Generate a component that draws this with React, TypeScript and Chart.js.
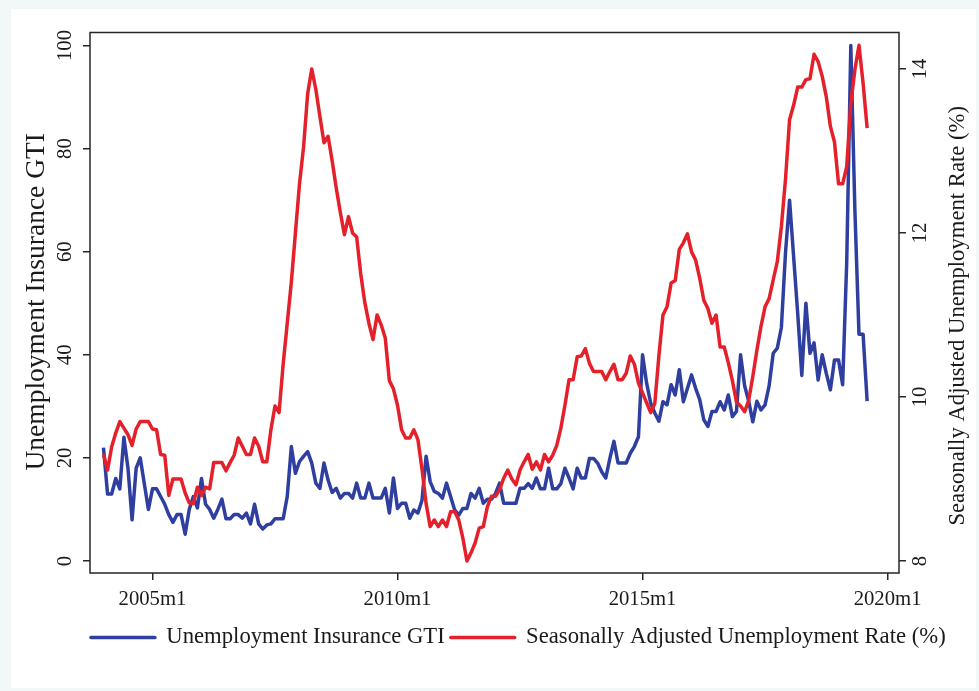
import { useEffect, useRef } from "react";
import { Chart, registerables } from "chart.js";

Chart.register(...registerables);

// Monthly observations, first month = 2004m1 (index 0)
const GTI = [
  22, 13, 13, 16, 14, 24, 18, 8, 18, 20,
  15, 10, 14, 14, 12.5, 11, 9, 7.5, 9, 9,
  5.2, 10, 12.5, 10.3, 16, 11, 10, 8.3, 10, 12,
  8.2, 8.2, 9, 9, 8.3, 9.3, 7.2, 11, 7.2, 6.2,
  7, 7.2, 8.2, 8.2, 8.2, 12.5, 22.2, 17, 19.3, 20.3,
  21.2, 19, 15.1, 14.1, 19, 15.7, 13.3, 14.1, 12.2, 13.1,
  13.1, 12.2, 15.1, 12.2, 12.2, 15.1, 12.2, 12.2, 12.2, 14.1,
  9.3, 16.1, 10.2, 11.2, 11.2, 8.3, 9.9, 9.3, 11.8, 20.3,
  15.4, 13.5, 13.1, 12.2, 15.1, 12.5, 9.9, 8.9, 10.2, 10.2,
  13.1, 12.2, 14.1, 11.2, 12, 12, 13.1, 15.1, 11.2, 11.2,
  11.2, 11.2, 14.1, 14.1, 15, 14.1, 16.1, 14, 14, 18,
  14, 14, 15, 18, 16.1, 14, 18, 16.1, 16.1, 19.9,
  19.9, 19, 17.3, 16.1, 19.9, 23.2, 19, 19, 19, 20.9,
  22.2, 24.1, 40, 34.5, 30.6, 28.7, 27.1, 30.9, 30.3, 34.2,
  32.2, 37.1, 30.9, 33.5, 36.1, 33.5, 31.3, 27.4, 26.1, 29,
  29, 30.9, 29.3, 32.2, 28, 29, 40, 34, 31, 27,
  31, 29.3, 30.3, 34, 40.3, 41.3, 45.3, 59.7, 70, 59,
  48, 36, 50, 40.3, 42.3, 35.1, 40, 36.4, 33.2, 39,
  39, 34.2, 58, 100, 68, 44, 44, 31,
];

const RATE = [
  9.3, 9.11, 9.39, 9.56, 9.7, 9.62, 9.54, 9.41, 9.61, 9.7,
  9.7, 9.7, 9.61, 9.6, 9.3, 9.29, 8.8, 9.0, 9.0, 9.0,
  8.83, 8.71, 8.7, 8.9, 8.8, 8.9, 8.88, 9.2, 9.2, 9.2,
  9.1, 9.2, 9.29, 9.5, 9.4, 9.3, 9.3, 9.5, 9.4, 9.21,
  9.21, 9.6, 9.89, 9.81, 10.4, 10.9, 11.4, 12.0, 12.6, 13.05,
  13.7, 14.0, 13.75, 13.42, 13.1, 13.18, 12.88, 12.55, 12.25, 11.98,
  12.2, 12.0, 11.95, 11.5, 11.15, 10.9, 10.7, 11.0, 10.88, 10.72,
  10.2, 10.1, 9.9, 9.6, 9.5, 9.5, 9.6, 9.48, 9.12, 8.7,
  8.42, 8.5, 8.42, 8.5, 8.42, 8.6, 8.6, 8.5, 8.28, 8.0,
  8.1, 8.22, 8.4, 8.42, 8.66, 8.79, 8.79, 8.87, 9.01, 9.11,
  9.0, 8.93, 9.11, 9.21, 9.3, 9.12, 9.21, 9.11, 9.3, 9.21,
  9.29, 9.41, 9.62, 9.9, 10.21, 10.21, 10.49, 10.5, 10.59, 10.41,
  10.31, 10.31, 10.31, 10.21, 10.31, 10.4, 10.21, 10.21, 10.29, 10.5,
  10.4, 10.17, 10.05, 9.93, 9.81, 9.92, 10.5, 11.0, 11.1, 11.39,
  11.42, 11.8, 11.88, 11.99, 11.77, 11.67, 11.45, 11.18, 11.08, 10.9,
  11.0, 10.61, 10.61, 10.42, 10.2, 9.94, 9.89, 9.82, 9.96, 10.25,
  10.57, 10.86, 11.1, 11.2, 11.43, 11.65, 12.08, 12.65, 13.38, 13.56,
  13.78, 13.78, 13.87, 13.88, 14.18, 14.09, 13.91, 13.66, 13.3, 13.11,
  12.6, 12.6, 12.81, 13.58, 13.99, 14.29, 13.83, 13.28,
];

// Month positions of the x-axis labels (months since 2004m1)
const X_TICKS = [12, 72, 132, 192];
const X_TICK_LABELS = ["2005m1", "2010m1", "2015m1", "2020m1"];
const LEFT_TICKS = [0, 20, 40, 60, 80, 100];
const RIGHT_TICKS = [8, 10, 12, 14];
const LEFT_TITLE = "Unemployment Insurance GTI";
const RIGHT_TITLE = "Seasonally Adjusted Unemployment Rate (%)";

const FONT = "'Liberation Serif', 'Times New Roman', serif";
const TEXT = "#1a1a1a";
const AXIS = "#262626";
const BLUE = "#2f3fa0";
const RED = "#e4202a";
const TICK_SIZE = 20.7;
const LEGEND_SIZE = 22.7;
const LEFT_TITLE_SIZE = 27.5;
const RIGHT_TITLE_SIZE = 22.7;

const pageBackground = {
  id: "pageBackground",
  beforeDraw(chart: Chart) {
    const { ctx, width, height } = chart;
    ctx.save();
    ctx.fillStyle = "#f2f7f7";
    ctx.fillRect(0, 0, width, height);
    ctx.fillStyle = "#ffffff";
    ctx.fillRect(11, 9, 965, 679);
    ctx.restore();
  },
};

const plotFrame = {
  id: "plotFrame",
  afterDraw(chart: Chart) {
    const { ctx, chartArea } = chart;
    ctx.save();
    ctx.strokeStyle = AXIS;
    ctx.lineWidth = 1.5;
    ctx.strokeRect(
      chartArea.left,
      chartArea.top,
      chartArea.right - chartArea.left,
      chartArea.bottom - chartArea.top
    );
    ctx.restore();
  },
};

// Vertical tick labels and axis titles, read bottom-to-top
const verticalText = {
  id: "verticalText",
  afterDraw(chart: Chart) {
    const { ctx, chartArea, scales } = chart;
    const draw = (text: string, cx: number, cy: number, size: number) => {
      ctx.save();
      ctx.font = `${size}px ${FONT}`;
      ctx.fillStyle = TEXT;
      ctx.textAlign = "center";
      ctx.textBaseline = "alphabetic";
      ctx.translate(cx + size * 0.34, cy);
      ctx.rotate(-Math.PI / 2);
      ctx.fillText(text, 0, 0);
      ctx.restore();
    };
    LEFT_TICKS.forEach((v) =>
      draw(String(v), 64, scales.y.getPixelForValue(v), TICK_SIZE)
    );
    RIGHT_TICKS.forEach((v) =>
      draw(String(v), 919, scales.y2.getPixelForValue(v), TICK_SIZE)
    );
    const midY = (chartArea.top + chartArea.bottom) / 2;
    draw(LEFT_TITLE, 35, midY - 1, LEFT_TITLE_SIZE);
    draw(RIGHT_TITLE, 956, midY + 13, RIGHT_TITLE_SIZE);
  },
};

export default function App() {
  const canvasRef = useRef<HTMLCanvasElement | null>(null);

  useEffect(() => {
    document.body.style.margin = "0";
    const canvas = canvasRef.current;
    if (!canvas) return;

    const tickGrid = {
      drawOnChartArea: false,
      drawTicks: true,
      tickLength: 7,
      color: AXIS,
      lineWidth: 1.5,
    };

    const chart = new Chart(canvas, {
      type: "line",
      data: {
        datasets: [
          {
            label: LEFT_TITLE,
            data: GTI.map((v, i) => ({ x: i, y: v })),
            yAxisID: "y",
            borderColor: BLUE,
            backgroundColor: BLUE,
            borderWidth: 3.5,
            pointRadius: 0,
            tension: 0,
            borderJoinStyle: "round",
            order: 2,
          },
          {
            label: RIGHT_TITLE,
            data: RATE.map((v, i) => ({ x: i, y: v })),
            yAxisID: "y2",
            borderColor: RED,
            backgroundColor: RED,
            borderWidth: 3.5,
            pointRadius: 0,
            tension: 0,
            borderJoinStyle: "round",
            order: 1,
          },
        ],
      },
      options: {
        responsive: false,
        animation: false,
        devicePixelRatio: 1,
        layout: { padding: { left: 57.7, right: 0, top: 32.5, bottom: 32.15 } },
        plugins: {
          legend: {
            position: "bottom",
            labels: {
              boxWidth: 64,
              boxHeight: 0,
              padding: 6,
              color: TEXT,
              font: { family: FONT, size: LEGEND_SIZE },
              sort: (a: any, b: any) => a.datasetIndex - b.datasetIndex,
            },
          },
          tooltip: { enabled: false },
        },
        scales: {
          x: {
            type: "linear",
            min: -3.3,
            max: 194.8,
            afterBuildTicks: (s: any) => {
              s.ticks = X_TICKS.map((v) => ({ value: v }));
            },
            ticks: {
              autoSkip: false,
              maxRotation: 0,
              padding: 7.5,
              color: TEXT,
              font: { family: FONT, size: TICK_SIZE },
              callback: (v: any) => X_TICK_LABELS[X_TICKS.indexOf(Number(v))] ?? "",
            },
            grid: tickGrid,
            border: { display: false },
            afterFit: (s: any) => {
              s.height = 47.15;
            },
          },
          y: {
            type: "linear",
            position: "left",
            min: -2.33,
            max: 102.52,
            afterBuildTicks: (s: any) => {
              s.ticks = LEFT_TICKS.map((v) => ({ value: v }));
            },
            ticks: { display: false },
            grid: tickGrid,
            border: { display: false },
            afterFit: (s: any) => {
              s.width = 32.3;
            },
          },
          y2: {
            type: "linear",
            position: "right",
            min: 7.854,
            max: 14.445,
            afterBuildTicks: (s: any) => {
              s.ticks = RIGHT_TICKS.map((v) => ({ value: v }));
            },
            ticks: { display: false },
            grid: tickGrid,
            border: { display: false },
            afterFit: (s: any) => {
              s.width = 80;
            },
          },
        },
      },
      plugins: [pageBackground, plotFrame, verticalText],
    });

    return () => chart.destroy();
  }, []);

  return (
    <canvas
      ref={canvasRef}
      width={979}
      height={691}
      style={{ display: "block", width: 979, height: 691 }}
    />
  );
}
